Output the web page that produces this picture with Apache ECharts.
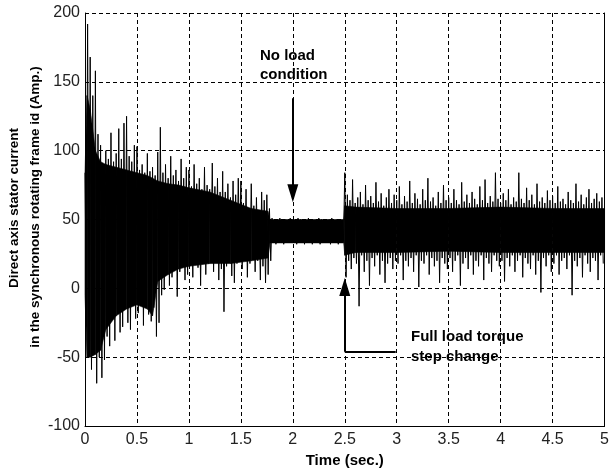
<!DOCTYPE html>
<html>
<head>
<meta charset="utf-8">
<script src="https://cdn.jsdelivr.net/npm/echarts@6/dist/echarts.min.js"></script>
<style>
  html, body { margin: 0; padding: 0; background: #fff; }
  #chart { width: 612px; height: 473px; }
</style>
</head>
<body>
<div id="chart"></div>
<script>
// sample step (sec.) between successive upper peaks; lower peak sits half way between
var sampleStep = 0.025;

// upper peaks of id (Amp.), one every 0.025 s
var upperPeaks = [
  // 0 - 0.5 s
  84, 192, 168, 140, 158, 112, 104, 90, 100, 94, 113, 92, 98, 116, 94, 120, 125, 96, 92, 104,
  // 0.5 - 1 s
  103, 86, 90, 84, 98, 85, 88, 82, 99, 117, 84, 90, 80, 96, 82, 86, 78, 94, 80, 88,
  // 1 - 1.5 s
  86, 74, 90, 76, 80, 72, 88, 75, 72, 91, 74, 80, 70, 85, 70, 76, 66, 78, 68, 80,
  // 1.5 - 2 s
  78, 62, 72, 58, 76, 60, 66, 56, 70, 64, 68, 58, 51, 50, 49, 51, 50, 50, 49, 51,
  // 2 - 2.5 s (no load)
  50, 49, 51, 50, 50, 49, 51, 50, 49, 50, 51, 50, 49, 50, 50, 51, 49, 50, 50, 49,
  // 2.5 - 3 s
  84, 68, 64, 79, 62, 66, 70, 61, 75, 64, 67, 62, 77, 63, 69, 60, 66, 72, 62, 68,
  // 3 - 3.5 s
  64, 74, 61, 67, 63, 78, 62, 69, 65, 61, 72, 64, 80, 63, 66, 60, 70, 62, 75, 64,
  // 3.5 - 4 s
  66, 62, 72, 64, 61, 77, 63, 68, 62, 70, 65, 61, 74, 64, 79, 62, 67, 63, 84, 65,
  // 4 - 4.5 s
  62, 69, 64, 72, 61, 66, 63, 84, 65, 62, 73, 64, 68, 61, 76, 63, 66, 62, 71, 64,
  // 4.5 - 5 s
  67, 62, 74, 63, 65, 61, 70, 64, 62, 76, 63, 68, 61, 66, 72, 62, 65, 69, 63, 66
];

// lower peaks of id (Amp.)
var lowerPeaks = [
  -5, -30, -59, -45, -69, -50, -65, -52, -35, -42, -20, -38, -15, -32, -28, -12, -25, -30, -10, -22,
  -18, -6, -27, -10, -19, -24, -14, -35, -25, -5, -1, 13, 2, 8, 14, -6, 12, 18, 6, 10,
  20, 8, 24, 15, 2, 22, 10, 18, 26, 12, 20, 6, 14, -17, 16, 22, 9, 4, 18, 24,
  14, 22, 8, 18, 25, 12, 20, 6, 16, 4, 10, 20, 33, 32, 34, 33, 32, 33, 34, 33,
  33, 32, 33, 34, 32, 33, 33, 32, 34, 33, 32, 33, 33, 34, 32, 33, 33, 32, 33, 34,
  8, 20, 14, 22, 18, -13, 24, 12, 20, 2, 22, 16, 24, 10, 20, 4, 18, 22, 14, 20,
  18, 24, 6, 20, 16, 22, 12, 24, 1, 20, 18, 24, 10, 22, 16, 20, 4, 22, 18, 14,
  22, 12, 20, 24, 2, 18, 22, 14, 24, 10, 20, 16, 24, 6, 22, 18, 12, 24, 20, 16,
  20, 5, 22, 16, 24, 12, 20, 24, 8, 22, 18, 14, 24, 10, 20, -3, 22, 16, 24, 12,
  18, 24, 10, 20, 22, 14, 24, -5, 20, 16, 22, 8, 24, 18, 12, 22, 20, 6, 24, 18
];

// solid black core of the trace (where the oscillation is too dense to resolve)
var coreTimes  = [0, 0.02, 0.05, 0.1, 0.15, 0.2, 0.3, 0.4, 0.5, 0.6, 0.65, 0.7, 0.8, 0.9, 1.0, 1.2, 1.4, 1.6, 1.76, 1.78, 2.49, 2.5, 2.6, 3.0, 3.5, 4.0, 4.5, 5.0];
var coreTop    = [84, 140, 130, 100, 92, 90, 88, 86, 84, 82, 80, 78, 76, 75, 73, 70, 64, 58, 56, 50, 50, 60, 59, 58, 58, 59, 58, 58];
var coreBottom = [-5, -50, -50, -48, -45, -30, -20, -15, -12, -15, -20, 5, 10, 14, 16, 18, 18, 20, 22, 33, 33, 24, 26, 26, 27, 26, 26, 26];

// annotation arrows [time, Amp.]
var noLoadArrow = [[2, 138], [2, 69]];
var stepArrow = [[2.5, -46], [2.5, 1]];
var stepLeader = [[2.5, -46], [2.99, -46]];

var signal = [];
for (var i = 0; i < upperPeaks.length; i++) {
  signal.push([i * sampleStep, upperPeaks[i]]);
  signal.push([i * sampleStep + sampleStep / 2, lowerPeaks[i]]);
}

var coreData = coreTimes.map(function (t, k) {
  return [t, coreTop[k], coreBottom[k]];
});

function renderCore(params, api) {
  var k = params.dataIndex;
  if (k >= coreTimes.length - 1) return;
  var t0 = coreTimes[k], t1 = coreTimes[k + 1];
  var pts = [
    api.coord([t0, coreTop[k]]),
    api.coord([t1, coreTop[k + 1]]),
    api.coord([t1, coreBottom[k + 1]]),
    api.coord([t0, coreBottom[k]])
  ];
  return {
    type: 'polygon',
    shape: { points: pts },
    style: { fill: '#000', stroke: '#000', lineWidth: 0.6 }
  };
}

var chartDom = document.getElementById('chart');
var myChart = echarts.init(chartDom);
var dash = { color: '#000', type: [4, 3], width: 1 };
var tickFont = { color: '#222', fontFamily: 'Liberation Sans', fontSize: 16 };
var boldFont = 'bold 15px "Liberation Sans"';

var option = {
  animation: false,
  grid: { left: 85, right: 5, top: 13, bottom: 47 },
  xAxis: {
    type: 'value',
    min: 0,
    max: 5,
    interval: 0.5,
    name: 'Time (sec.)',
    nameLocation: 'middle',
    nameGap: 25,
    nameTextStyle: { color: '#000', fontFamily: 'Liberation Sans', fontWeight: 'bold', fontSize: 15 },
    axisLine: { onZero: false, lineStyle: { color: '#000', width: 1 } },
    axisTick: { show: false },
    axisLabel: Object.assign({ margin: 6 }, tickFont),
    splitLine: { show: true, lineStyle: dash }
  },
  yAxis: [
    {
      type: 'value',
      min: -100,
      max: 200,
      interval: 50,
      axisLine: { show: true, onZero: false, lineStyle: { color: '#000', width: 1 } },
      axisTick: { show: false },
      axisLabel: Object.assign({ margin: 5 }, tickFont),
      splitLine: { show: true, lineStyle: dash }
    },
    {
      type: 'value',
      position: 'right',
      min: -100,
      max: 200,
      interval: 50,
      axisLine: { show: true, onZero: false, lineStyle: { color: '#000', width: 1 } },
      axisTick: { show: false },
      axisLabel: { show: false },
      splitLine: { show: false }
    }
  ],
  series: [
    {
      type: 'custom',
      data: coreData,
      renderItem: renderCore,
      silent: true,
      z: 2
    },
    {
      type: 'line',
      data: signal,
      showSymbol: false,
      symbol: 'none',
      sampling: null,
      lineStyle: { color: '#000', width: 1 },
      z: 3,
      markLine: {
        silent: true,
        animation: false,
        label: { show: false },
        lineStyle: { color: '#000', type: 'solid', width: 2 },
        symbolSize: [11, 18],
        data: [
          [
            { coord: noLoadArrow[0], symbol: 'none' },
            { coord: noLoadArrow[1], symbol: 'triangle' }
          ],
          [
            { coord: stepArrow[0], symbol: 'none' },
            { coord: stepArrow[1], symbol: 'triangle' }
          ],
          [
            { coord: stepLeader[0], symbol: 'none' },
            { coord: stepLeader[1], symbol: 'none' }
          ]
        ]
      }
    }
  ],
  graphic: [
    {
      type: 'text', x: 14, y: 208, rotation: Math.PI / 2,
      style: { text: 'Direct axis stator current', font: 'bold 13.5px "Liberation Sans"', fill: '#000', align: 'center', verticalAlign: 'middle' }
    },
    {
      type: 'text', x: 35, y: 207, rotation: Math.PI / 2,
      style: { text: 'in the synchronous rotating frame id (Amp.)', font: 'bold 13.5px "Liberation Sans"', fill: '#000', align: 'center', verticalAlign: 'middle' }
    },
    {
      type: 'text', left: 260, top: 46, z: 10,
      style: { text: 'No load\ncondition', font: boldFont, lineHeight: 19, fill: '#000' }
    },
    {
      type: 'text', left: 411, top: 327, z: 10,
      style: { text: 'Full load torque\nstep change', font: boldFont, lineHeight: 20, fill: '#000' }
    }
  ]
};

option && myChart.setOption(option);
</script>
</body>
</html>
